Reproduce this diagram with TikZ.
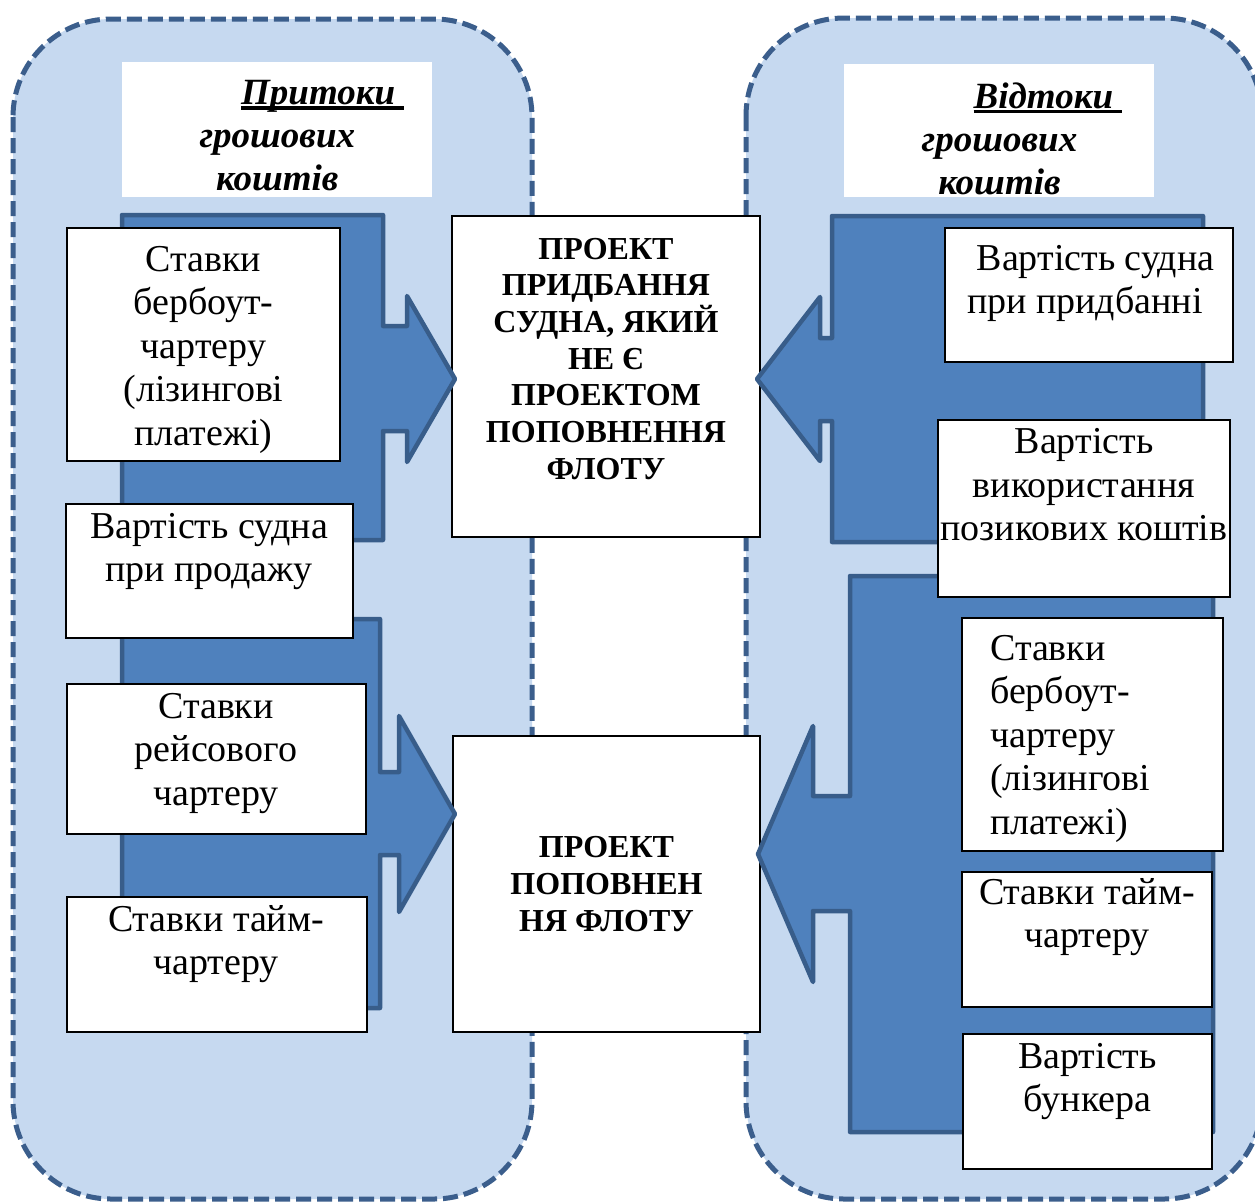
\documentclass[tikz,border=0pt]{standalone}
\usepackage{fontspec}
\setmainfont{Liberation Serif}
\definecolor{poolfill}{HTML}{C6D9F0}
\definecolor{pooledge}{HTML}{3B5E8C}
\definecolor{flowfill}{HTML}{4F81BD}
\definecolor{flowedge}{HTML}{385D8A}
% thick underline that also covers a trailing space
\newcommand\ulword[1]{\setbox0=\hbox{#1}\rlap{\rule[-5pt]{\wd0}{3.5pt}}\box0}
\begin{document}
\begin{tikzpicture}[x=1pt,y=-1pt,
  pool/.style={fill=poolfill,draw=pooledge,line width=5pt,dash pattern=on 15pt off 6pt,rounded corners=98pt},
  flow/.style={fill=flowfill,draw=flowedge,line width=4.5pt,line join=round},
  cell/.style={draw=black,fill=white,line width=1.3pt,inner sep=0pt},
  heading/.style={fill=white,inner sep=0pt},
  txt/.style={inner sep=0pt,anchor=base,font=\fontsize{38}{43.5}\selectfont},
  headtxt/.style={inner sep=0pt,anchor=base,font=\bfseries\itshape\fontsize{37}{43}\selectfont},
  projtxt/.style={inner sep=0pt,anchor=base,font=\bfseries\fontsize{32}{36.7}\selectfont}]

\useasboundingbox (0,0) rectangle (1255,1203);
\fill[white] (0,0) rectangle (1255,1203);

% two dashed pools: inflows (left) and outflows (right)
\draw[pool] (13,19) rectangle (532,1199);
\draw[pool] (746,18) rectangle (1262,1199);

% pool headings
\node[heading,minimum width=310pt,minimum height=135pt] (lhead) at (277,129.5) {};
\node[headtxt] (lheadt) at (277.3,104.5)
  {\parbox[t]{400pt}{\centering\hspace*{91pt}\ulword{Притоки\ }\\грошових\\коштів}};
\node[heading,minimum width=310pt,minimum height=133pt] (rhead) at (999,130.5) {};
\node[headtxt] (rheadt) at (999.5,108)
  {\parbox[t]{400pt}{\centering\hspace*{97pt}\ulword{Відтоки\ }\\грошових\\коштів}};

% project boxes in the middle
\node[cell,minimum width=308pt,minimum height=321pt] (ct) at (606,376.5) {};
\node[projtxt] (ctt) at (606,259)
  {\parbox[t]{400pt}{\centering ПРОЕКТ\\ПРИДБАННЯ\\СУДНА, ЯКИЙ\\НЕ Є\\ПРОЕКТОМ\\ПОПОВНЕННЯ\\ФЛОТУ}};
\node[cell,minimum width=307pt,minimum height=296pt] (cb) at (606.5,884) {};
\node[projtxt,font=\bfseries\fontsize{32}{37}\selectfont] (cbt) at (606.5,857)
  {\parbox[t]{400pt}{\centering ПРОЕКТ\\ПОПОВНЕН\\НЯ ФЛОТУ}};

% block arrows
\draw[flow] (122,215) -- (383,215) -- (383,326) -- (407,326) -- (407,296) -- (455,379)
  -- (407,462) -- (407,431) -- (383,431) -- (383,540) -- (122,540) -- cycle;
\draw[flow] (122,619) -- (380,619) -- (380,772) -- (399,772) -- (399,716) -- (455,814)
  -- (399,912) -- (399,855) -- (380,855) -- (380,1008) -- (122,1008) -- cycle;
\draw[flow] (1203,216) -- (832,216) -- (832,338) -- (820,338) -- (820,297) -- (757,379)
  -- (820,461) -- (820,421) -- (832,421) -- (832,542) -- (1203,542) -- cycle;
\draw[flow] (1213,576) -- (850,576) -- (850,796) -- (813,796) -- (813,726) -- (758,854)
  -- (813,982) -- (813,911) -- (850,911) -- (850,1132) -- (1213,1132) -- cycle;

% inflow items
\node[cell,minimum width=273pt,minimum height=233pt] (lb1) at (203.5,344.5) {};
\node[txt] (lb1t) at (203.5,271)
  {\parbox[t]{400pt}{\centering Ставки\\бербоут-\\чартеру\\(лізингові\\платежі)}};
\node[cell,minimum width=287pt,minimum height=134pt] (lb2) at (209.5,571) {};
\node[txt] (lb2t) at (209,538) {\parbox[t]{400pt}{\centering Вартість судна\\при продажу}};
\node[cell,minimum width=299pt,minimum height=150pt] (lb3) at (216.5,759) {};
\node[txt] (lb3t) at (216,718) {\parbox[t]{400pt}{\centering Ставки\\рейсового\\чартеру}};
\node[cell,minimum width=300pt,minimum height=135pt] (lb4) at (217,964.5) {};
\node[txt] (lb4t) at (216,931) {\parbox[t]{400pt}{\centering Ставки тайм-\\чартеру}};

% outflow items
\node[cell,minimum width=288pt,minimum height=134pt] (rb1) at (1089,295) {};
\node[txt,anchor=base west] (rb1t) at (967,270)
  {\parbox[t]{300pt}{\raggedright\hspace*{9.5pt}Вартість судна\\при придбанні}};
\node[cell,minimum width=292pt,minimum height=177pt] (rb2) at (1084,508.5) {};
\node[txt] (rb2t) at (1084,453.5)
  {\parbox[t]{400pt}{\centering Вартість\\використання\\позикових коштів}};
\node[cell,minimum width=261pt,minimum height=233pt] (rb3) at (1092.5,734.5) {};
\node[txt,anchor=base west] (rb3t) at (990,660)
  {\parbox[t]{300pt}{\raggedright Ставки\\бербоут-\\чартеру\\(лізингові\\платежі)}};
\node[cell,minimum width=250pt,minimum height=135pt] (rb4) at (1087,939.5) {};
\node[txt] (rb4t) at (1087,904) {\parbox[t]{400pt}{\centering Ставки тайм-\\чартеру}};
\node[cell,minimum width=249pt,minimum height=135pt] (rb5) at (1087.5,1101.5) {};
\node[txt] (rb5t) at (1087.5,1068) {\parbox[t]{400pt}{\centering Вартість\\бункера}};

\end{tikzpicture}
\end{document}
